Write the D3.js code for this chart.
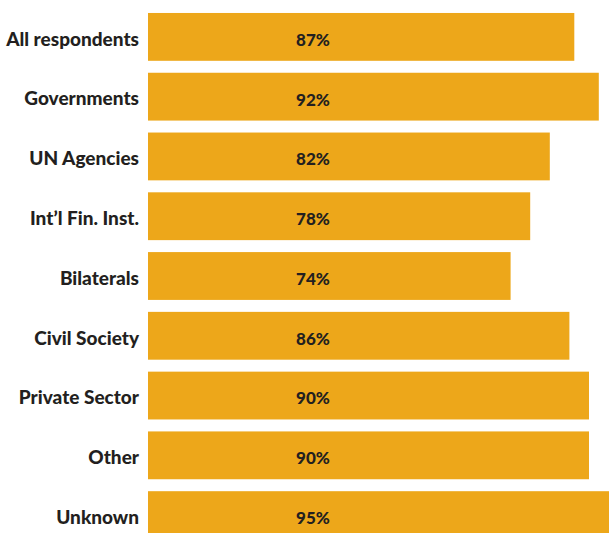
<!DOCTYPE html>
<html>
<head>
<meta charset="utf-8">
<script src="https://cdn.jsdelivr.net/npm/d3@7"></script>
<style>
  html, body { margin: 0; padding: 0; background: #ffffff; overflow: hidden; }
  svg { display: block; }
</style>
</head>
<body>
<svg id="chart" width="609" height="533"></svg>
<script>
const categories = ["All respondents", "Governments", "UN Agencies", "Int\u2019l Fin. Inst.", "Bilaterals", "Civil Society", "Private Sector", "Other", "Unknown"];
const values = [87, 92, 82, 78, 74, 86, 90, 90, 95];
const valueLabels = ["87%", "92%", "82%", "78%", "74%", "86%", "90%", "90%", "95%"];

const data = categories.map((c, i) => ({ cat: c, val: values[i], label: valueLabels[i] }));

const svg = d3.select("#chart");
const x = d3.scaleLinear().domain([0, 100]).range([148, 638]);
const y = d3.scaleBand().domain(categories).range([7, 545]).paddingInner(0.2).paddingOuter(0.1);

const font = "Lato, 'Open Sans', sans-serif";

svg.selectAll("rect.bar")
  .data(data)
  .join("rect")
  .attr("class", "bar")
  .attr("x", x(0))
  .attr("y", d => y(d.cat))
  .attr("width", d => x(d.val) - x(0))
  .attr("height", y.bandwidth())
  .attr("fill", "#eda71a");

svg.selectAll("text.val")
  .data(data)
  .join("text")
  .attr("class", "val")
  .attr("x", 313)
  .attr("y", d => y(d.cat) + y.bandwidth() / 2)
  .attr("dy", "0.52em")
  .attr("text-anchor", "middle")
  .attr("font-family", font)
  .attr("font-weight", 900)
  .attr("font-size", 17)
  .attr("fill", "#231f20")
  .text(d => d.label);

svg.selectAll("text.cat")
  .data(data)
  .join("text")
  .attr("class", "cat")
  .attr("x", 139)
  .attr("y", d => y(d.cat) + y.bandwidth() / 2)
  .attr("dy", "0.46em")
  .attr("text-anchor", "end")
  .attr("font-family", font)
  .attr("font-weight", 900)
  .attr("font-size", 19)
  .attr("fill", "#231f20")
  .text(d => d.cat);
</script>
</body>
</html>
